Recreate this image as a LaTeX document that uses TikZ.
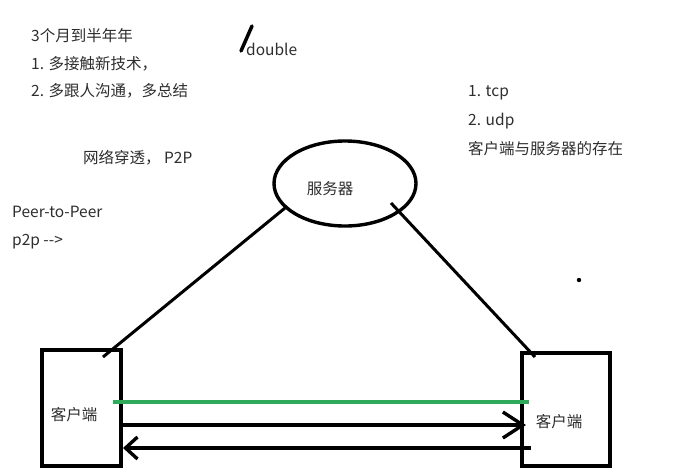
\documentclass[tikz,border=0pt]{standalone}
\usepackage{fontspec}
\setmainfont{Noto Sans CJK SC}
\usetikzlibrary{arrows.meta,shapes.geometric}
\definecolor{txt}{HTML}{2E2E2E}
\definecolor{grn}{HTML}{2FAA5A}
\tikzset{
  lbl/.style={anchor=west,inner sep=0pt,text=txt,font=\fontsize{15.5}{17}\selectfont},
  stroke/.style={line width=3pt,black},
}
\begin{document}
\begin{tikzpicture}[x=1pt,y=-1pt]
\useasboundingbox[fill=white] (0,0) rectangle (682,474);
% texts
\node[lbl] (t1) at (31,36) {3个月到半年年};
\node[lbl] (t2) at (31,64) {1. 多接触新技术，};
\node[lbl] (t3) at (31,91) {2. 多跟人沟通，多总结};
\node[lbl] (t4) at (83,158) {网络穿透， P2P};
\node[lbl] (t5) at (12,212) {Peer-to-Peer};
\node[lbl] (t6) at (12,242) {p2p -{}->};
\node[lbl] (t7) at (468,93) {1. tcp};
\node[lbl] (t8) at (468,121) {2. udp};
\node[lbl] (t9) at (468,149) {客户端与服务器的存在};
\node[lbl] (dbl) at (246,49) {double};
\coordinate (s1) at (252,26);
\coordinate (s2) at (241,51);
\draw[line width=3.5pt,line cap=round] (s1) -- (s2);
% server
\node[draw,ellipse,line width=3.4pt,minimum width=142pt,minimum height=85pt,inner sep=0pt] (srv) at (345,183.5) {};
\node[lbl,anchor=center] (srvt) at (330,189) {服务器};
% clients
\node[draw,line width=3.4pt,minimum width=79pt,minimum height=116pt,inner sep=0pt] (cl) at (81.5,408) {};
\node[draw,line width=3.4pt,minimum width=88pt,minimum height=113pt,inner sep=0pt] (cr) at (566,409.5) {};
\node[lbl,anchor=center] (clt) at (74,415) {客户端};
\node[lbl,anchor=center] (crt) at (559,422) {客户端};
% connectors to server
\coordinate (a1) at (285,208);
\coordinate (a2) at (103,357);
\coordinate (b1) at (391,203);
\coordinate (b2) at (535,357);
\draw[stroke] (a1) -- (a2);
\draw[stroke] (b1) -- (b2);
% green line
\coordinate (g1) at (113,402);
\coordinate (g2) at (529,402);
\draw[line width=3.4pt,grn] (g1) -- (g2);
% arrows
\coordinate (r1) at (119,425);
\coordinate (r2) at (526,425);
\draw[line width=3.4pt,-{Straight Barb[length=20pt,width=26pt]}] (r1) -- (r2);
\coordinate (l1) at (531,448);
\coordinate (l2) at (123,448);
\draw[line width=3.4pt,-{Straight Barb[length=12pt,width=22pt]}] (l1) -- (l2);
% dot
\coordinate (dt) at (579,280);
\fill (dt) circle (2.2pt);
\end{tikzpicture}
\end{document}
